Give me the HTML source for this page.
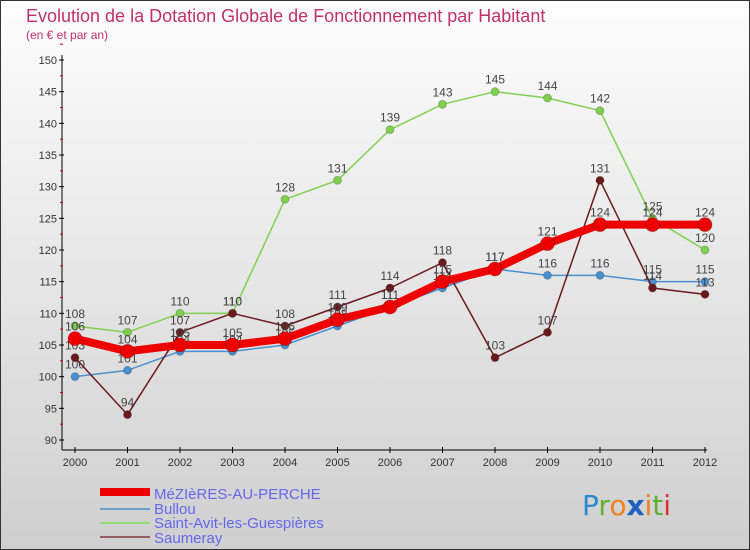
<!DOCTYPE html>
<html><head><meta charset="utf-8"><style>
body{margin:0;width:750px;height:550px;overflow:hidden;font-family:"Liberation Sans",sans-serif}
svg{display:block}
</style></head><body>
<svg width="750" height="550" xmlns="http://www.w3.org/2000/svg">
<defs><linearGradient id="bg" x1="0" y1="0" x2="0" y2="1"><stop offset="0" stop-color="#fdfdfd"/><stop offset="1" stop-color="#cfcfcf"/></linearGradient></defs>
<rect x="0.5" y="0.5" width="749" height="549" fill="url(#bg)" stroke="#333"/>
<text x="26" y="22" font-size="18" fill="#c0306a">Evolution de la Dotation Globale de Fonctionnement par Habitant</text>
<text x="26" y="39" font-size="12" fill="#c0306a">(en € et par an)</text>
<g id="axes"></g>
<g id="series"></g>
<g id="legend">
<rect x="100" y="488" width="50" height="8" fill="#e00"/>
<text x="154" y="499" font-size="15" fill="#6666ee">MéZIèRES-AU-PERCHE</text>
<rect x="100" y="508" width="50" height="2" fill="#6aa0cc"/>
<text x="154" y="514" font-size="15" fill="#6666ee">Bullou</text>
<rect x="100" y="522" width="50" height="2" fill="#90e070"/>
<text x="154" y="528" font-size="15" fill="#6666ee">Saint-Avit-les-Guespières</text>
<rect x="100" y="536" width="50" height="2" fill="#906060"/>
<text x="154" y="543" font-size="15" fill="#6666ee">Saumeray</text>
</g>
<g font-size="28" font-family="'DejaVu Sans',sans-serif">
<text x="582" y="515"><tspan fill="#2a8ad0">P</tspan><tspan fill="#60b030">r</tspan><tspan fill="#f08020">o</tspan><tspan fill="#2060c0" font-weight="bold">x</tspan><tspan fill="#f08020">i</tspan><tspan fill="#60b030">t</tspan><tspan fill="#e03030">i</tspan></text>
</g>
</svg>
<script>
const years=["2000","2001","2002","2003","2004","2005","2006","2007","2008","2009","2010","2011","2012"];
const yTicks=[90,95,100,105,110,115,120,125,130,135,140,145,150];
const mezieres=[106,104,105,105,106,109,111,115,117,121,124,124,124];
const bullou=[100,101,104,104,105,108,111,114,117,116,116,115,115];
const saintAvit=[108,107,110,110,128,131,139,143,145,144,142,125,120];
const saumeray=[103,94,107,110,108,111,114,118,103,107,131,114,113];
const NS="http://www.w3.org/2000/svg";
const X=i=>75+i*52.5, Y=v=>440-(v-90)*380/60;
function mk(t,a,p){const e=document.createElementNS(NS,t);for(const k in a)e.setAttribute(k,a[k]);p.appendChild(e);return e;}
const ax=document.getElementById('axes');
const yl=mk('line',{x1:62,y1:55,x2:62,y2:450,stroke:'#000'},ax);


const xl=mk('line',{x1:62,y1:450,x2:707,y2:450,stroke:'#000'},ax);


yTicks.forEach(v=>{
 mk('line',{x1:59,y1:Y(v),x2:64,y2:Y(v),stroke:'#000'},ax);
 mk('line',{x1:60,y1:Y(v+2.5),x2:63,y2:Y(v+2.5),stroke:'#c00'},ax);
 const t=mk('text',{x:57,y:Y(v)+4,'font-size':11,fill:'#333','text-anchor':'end'},ax);t.textContent=v;
 
 
});
years.forEach((y,i)=>{
 mk('line',{x1:X(i),y1:447,x2:X(i),y2:453,stroke:'#000'},ax);
 const t=mk('text',{x:X(i),y:466,'font-size':11,fill:'#333','text-anchor':'middle'},ax);t.textContent=y;
 
 
});
const sg=document.getElementById('series');
function series(data,color,w,r,name){
 const g=mk('g',{},sg);
 
 
 mk('polyline',{points:data.map((v,i)=>X(i)+','+Y(v)).join(' '),fill:'none',stroke:color,'stroke-width':w,'stroke-linejoin':'round'},g);
 data.forEach((v,i)=>{
  const c=mk('circle',{cx:X(i),cy:Y(v),r:r,fill:color,stroke:'#0003'},g);
  
  
  const t=mk('text',{x:X(i),y:Y(v)-8,'font-size':12,fill:'#444','text-anchor':'middle'},g);t.textContent=v;
  
  
 });
}
series(bullou,'#4a90d0',1.5,4,'series-bullou');
series(saintAvit,'#80d050',1.5,4,'series-saint-avit');
series(saumeray,'#6a1a1a',1.5,4,'series-saumeray');
series(mezieres,'#ee0000',8,7,'series-mezieres');
</script>
</body></html>
